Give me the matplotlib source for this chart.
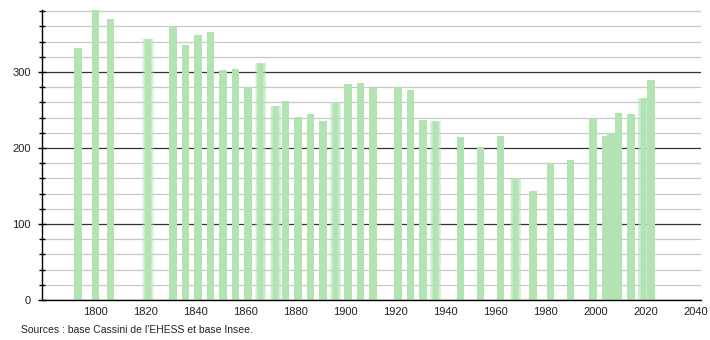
import matplotlib
matplotlib.use("Agg")
import matplotlib.pyplot as plt
from matplotlib.ticker import MultipleLocator

# Données (années de recensement et population)
annees = [1793, 1800, 1806, 1821, 1831, 1836, 1841, 1846, 1851, 1856,
          1861, 1866, 1872, 1876, 1881, 1886, 1891, 1896, 1901, 1906,
          1911, 1921, 1926, 1931, 1936, 1946, 1954, 1962, 1968, 1975,
          1982, 1990, 1999, 2004, 2006, 2009, 2014, 2019, 2022]
population = [331, 381, 369, 343, 361, 335, 349, 352, 302, 304,
              280, 312, 255, 262, 241, 245, 236, 260, 284, 286,
              279, 280, 276, 237, 235, 215, 201, 216, 160, 144,
              180, 184, 240, 216, 220, 246, 245, 266, 290]
# barres floues dans l'original
floues = [1821, 1866, 1872, 1896, 1936, 1968, 2019]

source = "Sources : base Cassini de l'EHESS et base Insee."

plt.rcParams['font.family'] = ['Liberation Sans', 'DejaVu Sans']
vert = '#b3e3b3'

fig = plt.figure(figsize=(7.1, 3.4), dpi=100)
ax = fig.add_axes([0.059, 0.1176, 0.928, 0.853])

for a, p in zip(annees, population):
    if a in floues:
        ax.bar(a, p, width=2.2, color=vert, zorder=2, linewidth=0)
        for w in [2.8, 3.4, 4.0, 4.6]:
            ax.bar(a, p, width=w, color=vert, alpha=0.28, zorder=2, linewidth=0)
    else:
        ax.bar(a, p, width=3.0, color=vert, zorder=2, linewidth=0)

# grille
ax.yaxis.set_major_locator(MultipleLocator(100))
ax.yaxis.set_minor_locator(MultipleLocator(20))
ax.grid(True, axis='y', which='minor', color='#c8c8c8', linewidth=0.9, zorder=0)
ax.grid(True, axis='y', which='major', color='#333333', linewidth=0.9, zorder=1)
ax.set_axisbelow(True)

ax.set_xlim(1778.5, 2042)
ax.set_ylim(0, 381.5)
ax.set_xticks(range(1800, 2041, 20))

for s in ['top', 'right']:
    ax.spines[s].set_visible(False)
ax.spines['left'].set_linewidth(1)
ax.spines['bottom'].set_linewidth(1)

ax.tick_params(axis='x', length=0, pad=5, labelsize=8, colors='#222222')
ax.tick_params(axis='y', which='major', direction='inout', length=6, width=1,
               labelsize=8, pad=5, labelcolor='#222222')
ax.tick_params(axis='y', which='minor', direction='inout', length=4, width=1)

fig.text(0.029, 0.029, source, fontsize=7.5, color='#222222', va='center')

fig.savefig("out.png", dpi=100)
